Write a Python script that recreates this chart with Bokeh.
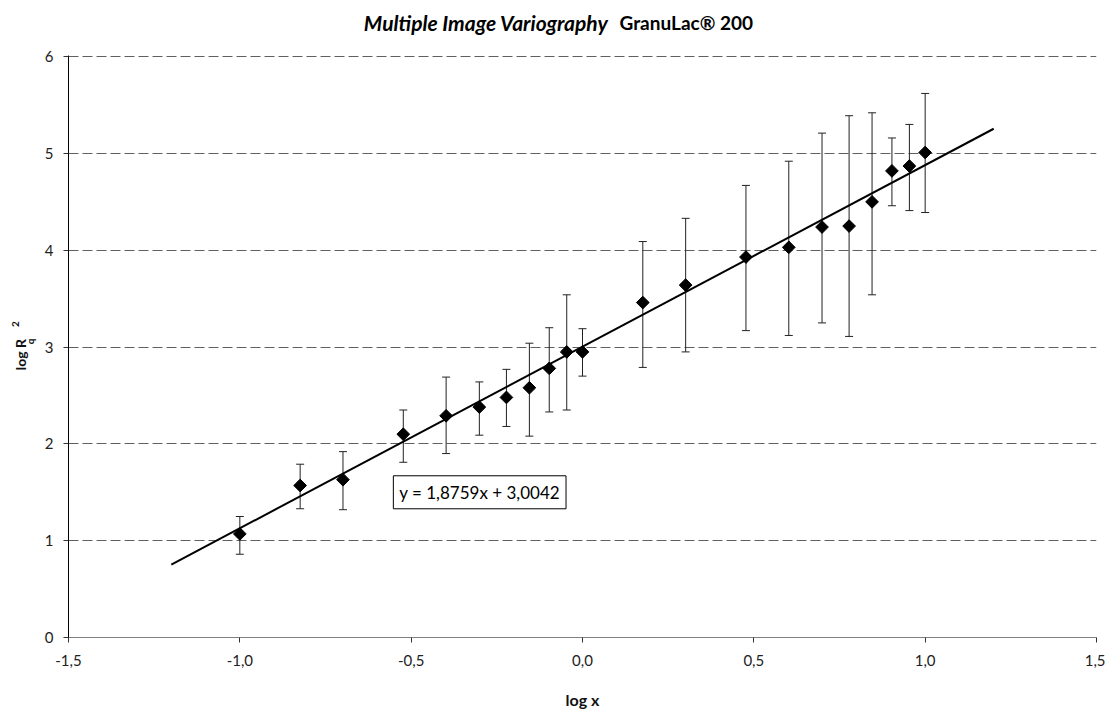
import numpy as np
from bokeh.plotting import figure
from bokeh.layouts import column, row
from bokeh.models import Range1d, Label, Whisker, TeeHead, ColumnDataSource, FixedTicker
from bokeh.core.properties import value
from bokeh.embed import file_html
from bokeh.resources import INLINE

# ---- data ----
log_x = [-1.0, -0.824, -0.699, -0.523, -0.398, -0.301, -0.222, -0.155, -0.097, -0.046, 0.0,
         0.176, 0.301, 0.477, 0.602, 0.699, 0.778, 0.845, 0.903, 0.954, 1.0]
log_rq2 = [1.07, 1.57, 1.63, 2.10, 2.29, 2.38, 2.48, 2.58, 2.78, 2.95, 2.95,
           3.46, 3.64, 3.93, 4.03, 4.24, 4.25, 4.50, 4.82, 4.87, 5.01]
err_upper = [1.25, 1.79, 1.92, 2.35, 2.69, 2.64, 2.77, 3.04, 3.20, 3.54, 3.19,
             4.09, 4.33, 4.67, 4.92, 5.21, 5.39, 5.42, 5.16, 5.30, 5.62]
err_lower = [0.86, 1.33, 1.32, 1.81, 1.90, 2.09, 2.18, 2.08, 2.33, 2.35, 2.70,
             2.79, 2.95, 3.17, 3.12, 3.25, 3.11, 3.54, 4.46, 4.41, 4.39]
slope = 1.8759
intercept = 3.0042
trend_x = [-1.2, 1.2]
x_ticks = [-1.5, -1.0, -0.5, 0.0, 0.5, 1.0, 1.5]
x_tick_labels = ["-1,5", "-1,0", "-0,5", "0,0", "0,5", "1,0", "1,5"]
y_ticks = [0, 1, 2, 3, 4, 5, 6]
equation_text = "y = 1,8759x + 3,0042"
title_italic = "Multiple Image Variography"
title_plain = "GranuLac\u00ae 200"
x_label = "log x"

FONT = "Lato"
TOTAL_W = 1105
TITLE_H = 40
YLAB_W = 40
MAIN_H = 673

# ---- title strip ----
pt = figure(width=TOTAL_W, height=TITLE_H, output_backend="svg", toolbar_location=None,
            x_range=Range1d(0, TOTAL_W), y_range=Range1d(0, TITLE_H),
            x_axis_type=None, y_axis_type=None, min_border=0)
pt.outline_line_color = None
pt.grid.grid_line_color = None
pt.text(x=[608], y=[18], text=[title_italic], text_font=value(FONT),
        text_font_style="bold italic", text_font_size="21px", text_align="right",
        text_baseline="middle", text_color="black")
pt.text(x=[619], y=[18], text=[title_plain], text_font=value(FONT),
        text_font_style="bold", text_font_size="19px", text_align="left",
        text_baseline="middle", text_color="black")

# ---- y label strip ----
py = figure(width=YLAB_W, height=MAIN_H, output_backend="svg", toolbar_location=None,
            x_range=Range1d(0, YLAB_W), y_range=Range1d(0, MAIN_H),
            x_axis_type=None, y_axis_type=None, min_border=0)
py.outline_line_color = None
py.grid.grid_line_color = None
page_bottom = TITLE_H + MAIN_H
shift = 27
py.text(x=[20], y=[page_bottom - 377 - shift], text=["log R"], angle=np.pi / 2, text_font=value(FONT),
        text_font_style="bold", text_font_size="14px", text_align="left",
        text_baseline="middle", text_color="#111111")
py.text(x=[29], y=[page_bottom - 347 - shift], text=["q"], angle=np.pi / 2, text_font=value(FONT),
        text_font_style="bold", text_font_size="10px", text_align="left",
        text_baseline="middle", text_color="#111111")
py.text(x=[15], y=[page_bottom - 327 - shift], text=["2"], angle=np.pi / 2, text_font=value(FONT),
        text_font_style="bold", text_font_size="10px", text_align="left",
        text_baseline="middle", text_color="#111111")

# ---- main plot ----
p = figure(width=TOTAL_W - YLAB_W, height=MAIN_H, output_backend="svg", toolbar_location=None,
           x_range=Range1d(-1.5, 1.5), y_range=Range1d(0, 6.012),
           min_border_left=28, min_border_right=9, min_border_top=15, min_border_bottom=76)
p.outline_line_color = None
p.background_fill_color = "white"
p.border_fill_color = "white"

p.xgrid.grid_line_color = None
p.ygrid.grid_line_color = "#606060"
p.ygrid.grid_line_dash = "10 4"
p.ygrid.grid_line_width = 1
p.ygrid.ticker = FixedTicker(ticks=y_ticks)

p.xaxis.ticker = FixedTicker(ticks=x_ticks)
p.xaxis.major_label_overrides = {t: l for t, l in zip(x_ticks, x_tick_labels)}
p.yaxis.ticker = FixedTicker(ticks=y_ticks)
for ax in (p.xaxis, p.yaxis):
    ax.major_tick_in = 0
    ax.major_tick_out = 5
    ax.minor_tick_line_color = None
    ax.major_label_text_font = FONT
    ax.major_label_text_font_size = "15px"
    ax.major_label_text_color = "#222222"
    ax.axis_label_text_font = FONT
    ax.axis_label_text_font_style = "bold"
    ax.axis_label_text_font_size = "16px"
    ax.axis_label_text_color = "#111111"
p.xaxis.axis_line_color = "#808080"
p.xaxis.major_tick_line_color = "#333333"
p.yaxis.axis_line_color = "black"
p.yaxis.major_tick_line_color = "#333333"
p.xaxis.major_label_standoff = 12
p.yaxis.major_label_standoff = 10
p.xaxis.axis_label = x_label
p.xaxis.axis_label_standoff = 21

src = ColumnDataSource(dict(x=log_x, y=log_rq2, upper=err_upper, lower=err_lower))
wh = Whisker(source=src, base="x", upper="upper", lower="lower", dimension="height",
             line_color="#222222", line_width=1,
             upper_head=TeeHead(size=8, line_color="#222222", line_width=1),
             lower_head=TeeHead(size=8, line_color="#222222", line_width=1))
p.add_layout(wh)

trend_y = [slope * v + intercept for v in trend_x]
p.line(trend_x, trend_y, line_color="black", line_width=2)

p.scatter("x", "y", source=src, marker="square", angle=np.pi / 4, size=9,
          fill_color="black", line_color="black")

p.add_layout(Label(x=-0.552, y=1.5, text=equation_text, text_font=FONT, text_font_size="17px",
                   text_baseline="middle", text_align="left", text_color="black",
                   border_line_color="black", border_line_width=1,
                   background_fill_color="white", padding=6))

layout = column(pt, row(py, p, spacing=0), spacing=0)
open("out.html", "w").write(file_html(layout, INLINE))
